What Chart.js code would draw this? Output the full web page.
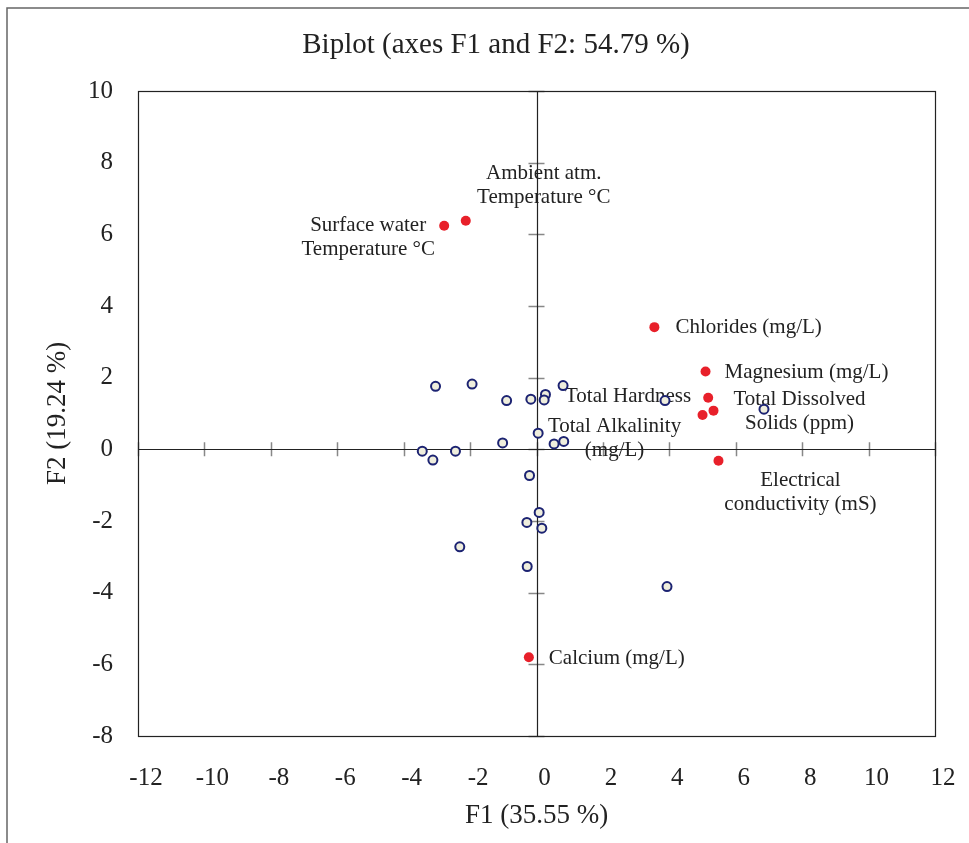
<!DOCTYPE html>
<html><head><meta charset="utf-8">
<script src="https://cdn.jsdelivr.net/npm/chart.js@4/dist/chart.umd.min.js"></script>
<style>html,body{margin:0;padding:0;background:#fff;}canvas{display:block;}</style>
</head><body>
<canvas id="c" width="969" height="843"></canvas>
<script>
// Observations (blue open circles)
const obsF1 = [-3.04,-1.94,-0.90,-0.17,0.27,0.23,0.80,3.87,0.05,-1.02,0.53,0.82,-3.44,-2.44,-3.12,-0.21,6.85,0.08,-0.29,0.16,-2.31,-0.28,3.93];
const obsF2 = [1.76,1.82,1.36,1.40,1.53,1.38,1.78,1.36,0.45,0.18,0.15,0.22,-0.05,-0.05,-0.30,-0.73,1.12,-1.76,-2.04,-2.20,-2.72,-3.27,-3.83];
// Variables (red dots)
const varNames = ['Surface water\nTemperature °C','Ambient atm.\nTemperature °C','Chlorides (mg/L)','Magnesium (mg/L)','Total Hardness','Total Dissolved\nSolids (ppm)','Total Alkalinity\n(mg/L)','Electrical\nconductivity (mS)','Calcium (mg/L)'];
const varF1 = [-2.78,-2.13,3.55,5.09,5.17,5.33,5.00,5.48,-0.23];
const varF2 = [6.24,6.38,3.41,2.17,1.44,1.08,0.96,-0.32,-5.80];
// Axis settings
const xMin = -12, xMax = 12, yMin = -8, yMax = 10, tickStep = 2;
const titleText = 'Biplot (axes F1 and F2: 54.79 %)';
const xTitle = 'F1 (35.55 %)';
const yTitle = 'F2 (19.24 %)';

// label placement (style, pixels relative to point)
const labelPlace = [
  {dx:-76,dy:0,align:'center'},
  {dx:78,dy:-47,align:'center'},
  {dx:21,dy:0,align:'left'},
  {dx:19,dy:1,align:'left'},
  {dx:-17,dy:-1,align:'right'},
  {dx:86,dy:-11,align:'center'},
  {dx:-88,dy:12,align:'center'},
  {dx:82,dy:20,align:'center'},
  {dx:20,dy:1,align:'left'}
];
const SERIF = '"Liberation Serif", "Times New Roman", serif';

const obsData = obsF1.map((x,i)=>({x:x,y:obsF2[i]}));
const varData = varF1.map((x,i)=>({x:x,y:varF2[i]}));

const biplotPlugin = {
  id:'biplot',
  beforeDraw(chart){
    const ctx = chart.ctx;
    ctx.save();
    ctx.strokeStyle = '#666'; ctx.lineWidth = 1.5;
    ctx.beginPath(); ctx.moveTo(7, 843); ctx.lineTo(7, 8); ctx.lineTo(969, 8); ctx.stroke();
    ctx.fillStyle = '#222'; ctx.font = '29px ' + SERIF;
    ctx.textAlign = 'center'; ctx.textBaseline = 'middle';
    ctx.fillText(titleText, 496, 45);
    ctx.restore();
  },
  beforeDatasetsDraw(chart){
    const ctx = chart.ctx, xs = chart.scales.x, ys = chart.scales.y, a = chart.chartArea;
    const x0 = xs.getPixelForValue(0), y0 = ys.getPixelForValue(0);
    ctx.save();
    ctx.strokeStyle = '#888'; ctx.lineWidth = 1.5;
    ctx.beginPath();
    for (let v = xMin; v <= xMax; v += tickStep) {
      const px = Math.round(xs.getPixelForValue(v)) + 0.5;
      ctx.moveTo(px, y0 - 7); ctx.lineTo(px, y0 + 7);
    }
    for (let v = yMin; v <= yMax; v += tickStep) {
      const py = Math.round(ys.getPixelForValue(v)) + 0.5;
      ctx.moveTo(x0 - 8, py); ctx.lineTo(x0 + 8, py);
    }
    ctx.stroke();
    ctx.strokeStyle = '#222'; ctx.lineWidth = 1.2;
    ctx.beginPath();
    ctx.moveTo(a.left, Math.round(y0)+0.5); ctx.lineTo(a.right, Math.round(y0)+0.5);
    ctx.moveTo(Math.round(x0)+0.5, a.top); ctx.lineTo(Math.round(x0)+0.5, a.bottom);
    ctx.stroke();
    ctx.strokeRect(Math.round(a.left)+0.5, Math.round(a.top)+0.5, Math.round(a.right-a.left), Math.round(a.bottom-a.top));
    ctx.fillStyle = '#222'; ctx.font = '21px ' + SERIF; ctx.textBaseline = 'middle';
    varNames.forEach((name,i)=>{
      const px = xs.getPixelForValue(varF1[i]), py = ys.getPixelForValue(varF2[i]);
      const p = labelPlace[i];
      ctx.textAlign = p.align;
      name.split('\n').forEach((line,j)=>{
        ctx.fillText(line, px + p.dx, py + p.dy + j*24);
      });
    });
    ctx.restore();
  }
};

new Chart(document.getElementById('c'), {
  type:'scatter',
  data:{datasets:[
    {label:'Observations', data:obsData, pointRadius:4.5, pointBorderWidth:2, borderColor:'#1c2372', backgroundColor:'#efeedd', pointHoverRadius:4.5},
    {label:'Variables', data:varData, pointRadius:5, pointBorderWidth:0, borderColor:'#e8202a', backgroundColor:'#e8202a', pointHoverRadius:5}
  ]},
  options:{
    responsive:false, animation:false, devicePixelRatio:1,
    layout:{padding:{left:0, right:34, top:91, bottom:0}},
    plugins:{legend:{display:false}, tooltip:{enabled:false}, title:{display:false}},
    scales:{
      x:{type:'linear', min:xMin, max:xMax,
        ticks:{stepSize:tickStep, padding:27, labelOffset:8, color:'#222', font:{family:SERIF, size:25}, maxRotation:0},
        grid:{display:false, drawTicks:false}, border:{display:false},
        title:{display:true, text:xTitle, color:'#222', font:{family:SERIF, size:27}, padding:{top:0,bottom:11}},
        afterFit(s){ s.height = 107; s.paddingLeft = 0; s.paddingRight = 0; }
      },
      y:{type:'linear', min:yMin, max:yMax,
        ticks:{stepSize:tickStep, padding:25, color:'#222', font:{family:SERIF, size:25}},
        grid:{display:false, drawTicks:false}, border:{display:false},
        title:{display:true, text:yTitle, color:'#222', font:{family:SERIF, size:27}, padding:{top:42,bottom:0}},
        afterFit(s){ s.width = 138; s.paddingTop = 0; s.paddingBottom = 0; }
      }
    }
  },
  plugins:[biplotPlugin]
});
</script>
</body></html>
